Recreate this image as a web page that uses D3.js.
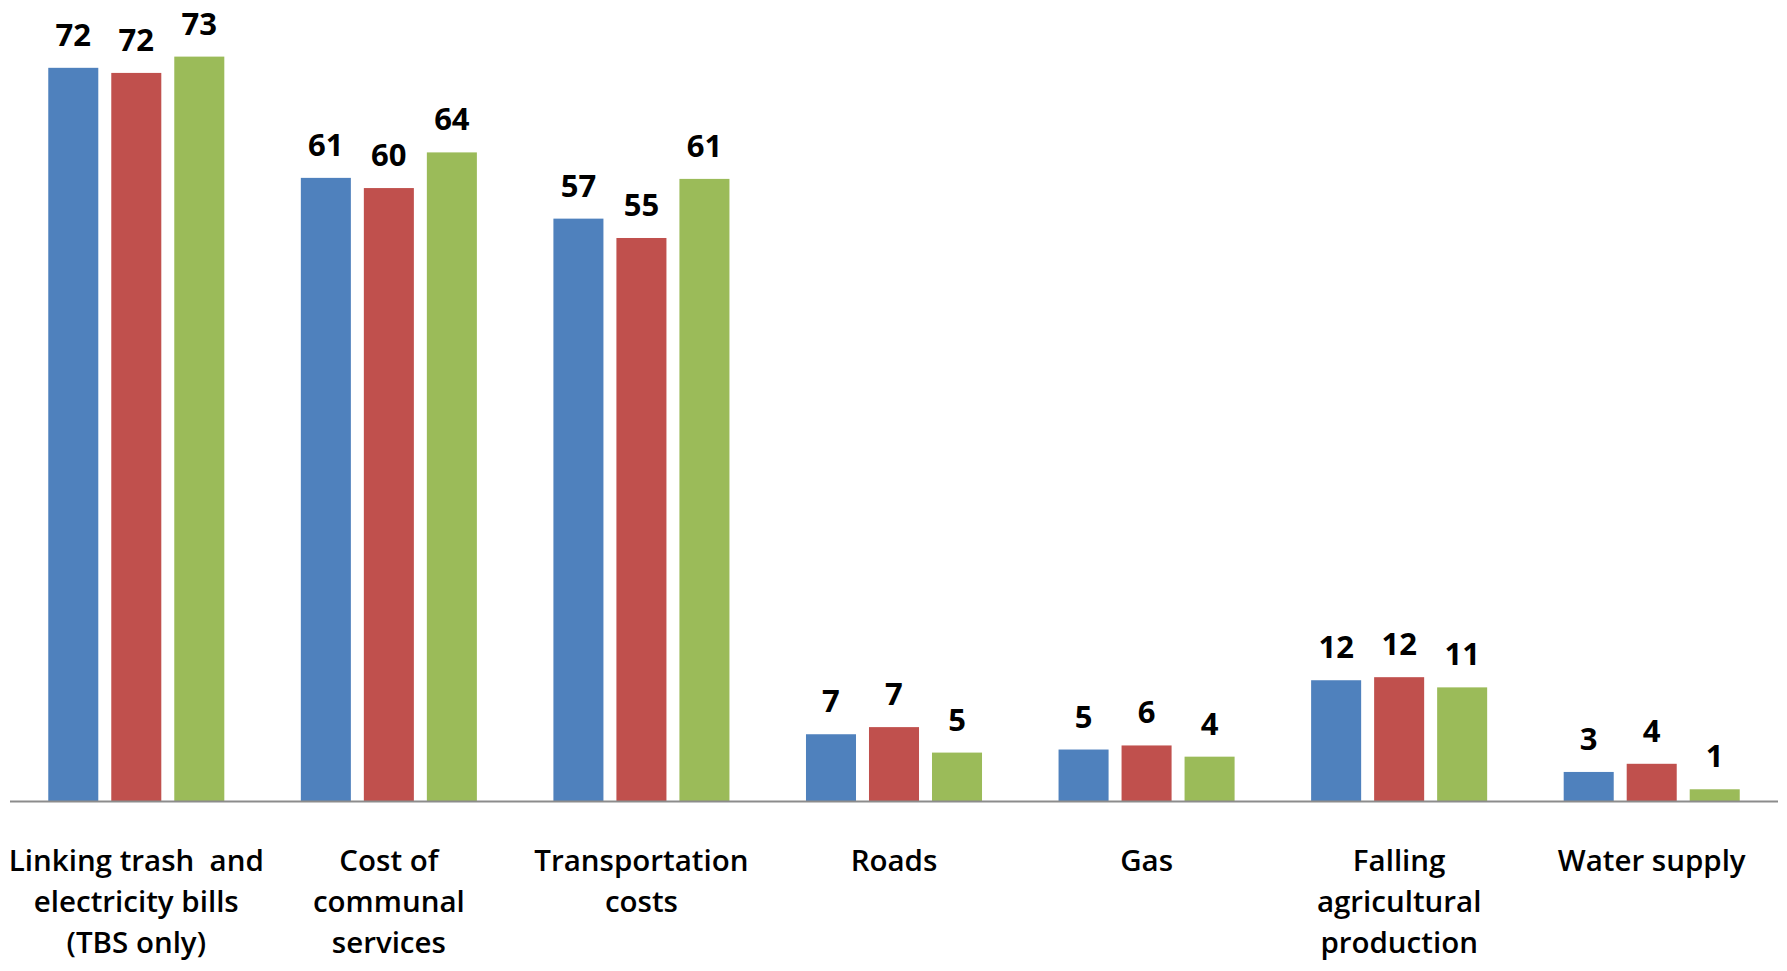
<!DOCTYPE html>
<html>
<head>
<meta charset="utf-8">
<script src="https://cdn.jsdelivr.net/npm/d3@7"></script>
<style>
  html, body { margin: 0; padding: 0; background: #ffffff; }
  svg { display: block; }
  .cat { font-family: "Open Sans", Lato, sans-serif; font-size: 29.5px; font-weight: 600; fill: #000; white-space: pre; }
  .val { font-family: "Open Sans", Lato, sans-serif; font-size: 31px; font-weight: 700; fill: #000; }
</style>
</head>
<body>
<svg id="chart" width="1787" height="971"></svg>
<script>
// ---- data ----
const categories = [
  ["Linking trash  and", "electricity bills", "(TBS only)"],
  ["Cost of", "communal", "services"],
  ["Transportation", "costs"],
  ["Roads"],
  ["Gas"],
  ["Falling", "agricultural", "production"],
  ["Water supply"]
];
const seriesNames = ["Series 1", "Series 2", "Series 3"];
const series1 = [72.0, 61.2, 57.2, 6.6, 5.1, 11.9, 2.9];
const series2 = [71.5, 60.2, 55.3, 7.3, 5.5, 12.2, 3.7];
const series3 = [73.1, 63.7, 61.1, 4.8, 4.4, 11.2, 1.2];
const colors = ["#4F81BD", "#C0504D", "#9BBB59"];

// ---- layout ----
const axisLeft = 10, axisRight = 1778, baseY = 801.5;
const pxPerUnit = 10.19;
const yMax = 80;

const svg = d3.select("#chart");
const seriesData = [series1, series2, series3];
const catIdx = d3.range(categories.length);

const x0 = d3.scaleBand()
  .domain(catIdx)
  .range([axisLeft, axisRight])
  .paddingInner(0.303)
  .paddingOuter(0.1515);

const x1 = d3.scaleBand()
  .domain(d3.range(seriesNames.length))
  .range([0, x0.bandwidth()])
  .paddingInner(0.206)
  .paddingOuter(0);

const y = d3.scaleLinear()
  .domain([0, yMax])
  .range([baseY, baseY - yMax * pxPerUnit]);

// bars
const groups = svg.append("g").selectAll("g")
  .data(catIdx)
  .join("g")
  .attr("transform", i => `translate(${x0(i)},0)`);

groups.selectAll("rect")
  .data(i => seriesData.map((s, k) => ({ k, v: s[i] })))
  .join("rect")
  .attr("x", d => x1(d.k))
  .attr("y", d => y(d.v))
  .attr("width", x1.bandwidth())
  .attr("height", d => y(0) - y(d.v))
  .attr("fill", d => colors[d.k]);

// value labels
groups.selectAll("text.val")
  .data(i => seriesData.map((s, k) => ({ k, v: s[i] })))
  .join("text")
  .attr("class", "val")
  .attr("x", d => x1(d.k) + x1.bandwidth() / 2)
  .attr("y", d => y(d.v) - 22)
  .attr("text-anchor", "middle")
  .text(d => d3.format(".0f")(d.v));

// axis line (category axis)
const xAxis = d3.axisBottom(x0).tickSize(0).tickFormat("");
const axG = svg.append("g").attr("transform", `translate(0,${baseY})`).call(xAxis);
axG.select(".domain").attr("stroke", "#8c8c8c").attr("stroke-width", 2)
  .attr("d", `M${axisLeft},0H${axisRight}`);

// category labels
const catG = svg.append("g");
catIdx.forEach(i => {
  const cx = x0(i) + x0.bandwidth() / 2;
  const t = catG.append("text")
    .attr("class", "cat")
    .attr("text-anchor", "middle")
    .attr("x", cx)
    .attr("y", 871);
  categories[i].forEach((line, j) => {
    t.append("tspan")
      .attr("x", cx)
      .attr("dy", j === 0 ? 0 : 41)
      .text(line);
  });
});
</script>
</body>
</html>
